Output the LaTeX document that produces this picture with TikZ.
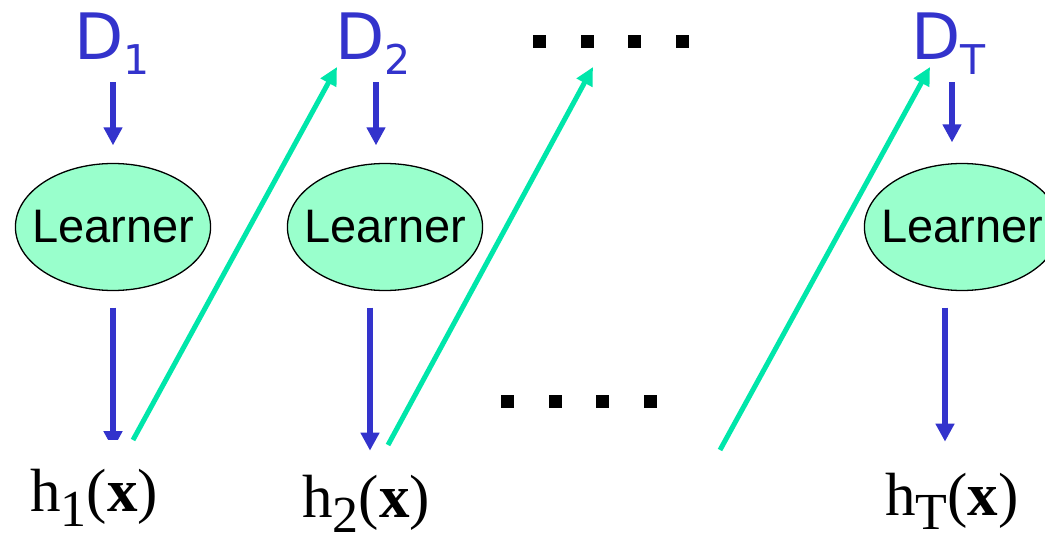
\documentclass[tikz,border=0pt]{standalone}
\usepackage{fontspec}
\setmainfont{Liberation Serif}
\newfontfamily\dfont{DejaVu Sans}
\newfontfamily\lfont{Liberation Sans}
\usetikzlibrary{arrows.meta,shapes.geometric}
\definecolor{dblue}{RGB}{51,51,204}
\definecolor{ggreen}{RGB}{0,230,170}
\definecolor{efill}{RGB}{153,255,204}
\begin{document}
\begin{tikzpicture}[x=1pt,y=-1pt,
  dlab/.style={text=dblue,font=\dfont\fontsize{64}{64}\selectfont,inner sep=0pt,anchor=base west},
  hlab/.style={text=black,font=\fontsize{61}{61}\selectfont,inner sep=0pt,anchor=base west},
  learner/.style={ellipse,draw=black,line width=1.3pt,fill=efill,minimum width=194pt,minimum height=127pt,inner xsep=-12pt,inner ysep=0pt,font=\lfont\fontsize{47}{47}\selectfont},
  barrow/.style={draw=dblue,line width=5.5pt,-{Triangle[length=18pt,width=18pt]}},
  garrow/.style={draw=ggreen,line width=5pt,-{Triangle[length=18pt,width=17pt]}},
  dotsq/.style={fill=black}]
\useasboundingbox (0,0) rectangle (1045,534);
% data labels
\node[dlab] (D1) at (74,60) {D\raisebox{-15pt}{\fontsize{41}{41}\selectfont 1}};
\node[dlab] (D2) at (335,60) {D\raisebox{-15pt}{\fontsize{41}{41}\selectfont 2}};
\node[dlab] (DT) at (911,60) {D\raisebox{-15pt}{\fontsize{41}{41}\selectfont T}};
% learners
\node[learner] (L1) at (113,227) {Learner};
\node[learner] (L2) at (385,227) {Learner};
\node[learner] (LT) at (962,227) {Learner};
% hypotheses
\node[hlab] (h1) at (30,512) {h\raisebox{-15pt}{\fontsize{52}{52}\selectfont 1}(\textbf{x})};
\node[hlab] (h2) at (302,518) {h\raisebox{-15pt}{\fontsize{52}{52}\selectfont 2}(\textbf{x})};
\node[hlab] (hT) at (885,515) {h\raisebox{-15pt}{\fontsize{52}{52}\selectfont T}(\textbf{x})};
% D -> learner arrows
\draw[barrow] ([yshift=80.5pt]L1.north) -- ([yshift=17.5pt]L1.north);
\draw[barrow] ([xshift=-9pt,yshift=80.5pt]L2.north) -- ([xshift=-9pt,yshift=17.5pt]L2.north);
\draw[barrow] ([xshift=-10pt,yshift=80.5pt]LT.north) -- ([xshift=-10pt,yshift=20.5pt]LT.north);
% learner -> h arrows
\begin{scope}
\clip (0,0) rectangle (1045,440);
\draw[barrow] ([yshift=-16.5pt]L1.south) -- ([yshift=-158pt]L1.south);
\end{scope}
\draw[barrow] ([xshift=-15pt,yshift=-16.5pt]L2.south) -- ([xshift=-15pt,yshift=-159.5pt]L2.south);
\draw[barrow] ([xshift=-17pt,yshift=-16.5pt]LT.south) -- ([xshift=-17pt,yshift=-150.5pt]LT.south);
% green reweighting arrows
\coordinate (g1a) at (133,440);
\coordinate (g1b) at (337,67);
\coordinate (g2a) at (388,445);
\coordinate (g2b) at (593,67);
\coordinate (g3a) at (720,450);
\coordinate (g3b) at (930,67);
\draw[garrow] (g1a) -- (g1b);
\draw[garrow] (g2a) -- (g2b);
\draw[garrow] (g3a) -- (g3b);
% dots
\foreach \x in {533,581,628,676} \fill[dotsq] (\x,35) rectangle ++(13,13);
\foreach \x in {501,549,596,644} \fill[dotsq] (\x,395) rectangle ++(13,13);
\end{tikzpicture}
\end{document}
